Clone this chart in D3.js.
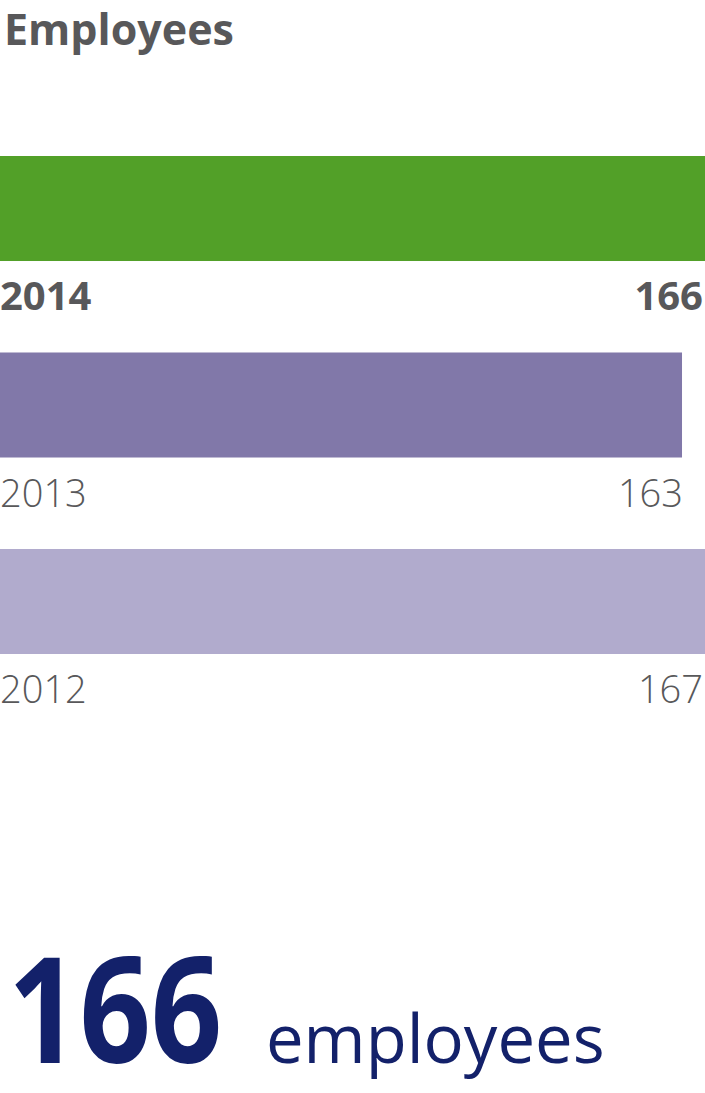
<!DOCTYPE html>
<html>
<head>
<meta charset="utf-8">
<script src="https://cdn.jsdelivr.net/npm/d3@7"></script>
<style>
  html, body { margin: 0; padding: 0; background: #fff; }
  svg { display: block; }
</style>
</head>
<body>
<svg id="chart" width="705" height="1093"></svg>
<script>
// data
const years = ["2014", "2013", "2012"];
const employees = [166, 163, 167];
const barColors = ["#52a028", "#8178a9", "#b1abcd"];
const headline = { value: "166", unit: "employees" };

const W = 705, H = 1093;
const svg = d3.select("#chart");

// bars are cut at the right edge of the picture
const x = d3.scaleLinear().domain([74, 166]).range([0, W]).clamp(true);
const y = d3.scaleBand().domain(years).range([156, 654]).paddingInner(0.4656).paddingOuter(0);

svg.append("text")
  .attr("x", 4).attr("y", 45)
  .attr("font-family", "'Open Sans', sans-serif")
  .attr("font-weight", 700)
  .attr("font-size", 43)
  .attr("fill", "#58585a")
  .text("Employees");

const rows = years.map((yr, i) => ({ year: yr, value: employees[i], color: barColors[i], bold: i === 0 }));

const g = svg.append("g");

g.selectAll("rect").data(rows).join("rect")
  .attr("x", 0)
  .attr("y", d => y(d.year))
  .attr("width", d => x(d.value))
  .attr("height", y.bandwidth())
  .attr("fill", d => d.color);

g.selectAll("text.year").data(rows).join("text")
  .attr("class", "year")
  .attr("x", 0)
  .attr("y", d => y(d.year) + y.bandwidth() + 49)
  .attr("font-family", "'Open Sans', sans-serif")
  .attr("font-weight", d => d.bold ? 700 : 300)
  .attr("font-size", d => d.bold ? 40 : 38)
  .attr("fill", "#58585a")
  .text(d => d.year);

g.selectAll("text.val").data(rows).join("text")
  .attr("class", "val")
  .attr("x", d => Math.min(x(d.value) + 1, W - 2))
  .attr("y", d => y(d.year) + y.bandwidth() + 49)
  .attr("text-anchor", "end")
  .attr("font-family", "'Open Sans', sans-serif")
  .attr("font-weight", d => d.bold ? 700 : 300)
  .attr("font-size", d => d.bold ? 40 : 38)
  .attr("fill", "#58585a")
  .text(d => d.value);

// big number at the bottom, squeezed a little to the narrower original face
svg.append("g")
  .attr("transform", "translate(8,1063) scale(0.85,1)")
  .append("text")
  .attr("x", 0).attr("y", 0)
  .attr("font-family", "'Open Sans', sans-serif")
  .attr("font-weight", 700)
  .attr("font-size", 147)
  .attr("fill", "#13216a")
  .text(headline.value);

svg.append("text")
  .attr("x", 266).attr("y", 1063)
  .attr("font-family", "'Open Sans', sans-serif")
  .attr("font-weight", 400)
  .attr("font-size", 67)
  .attr("fill", "#13216a")
  .text(headline.unit);
</script>
</body>
</html>
